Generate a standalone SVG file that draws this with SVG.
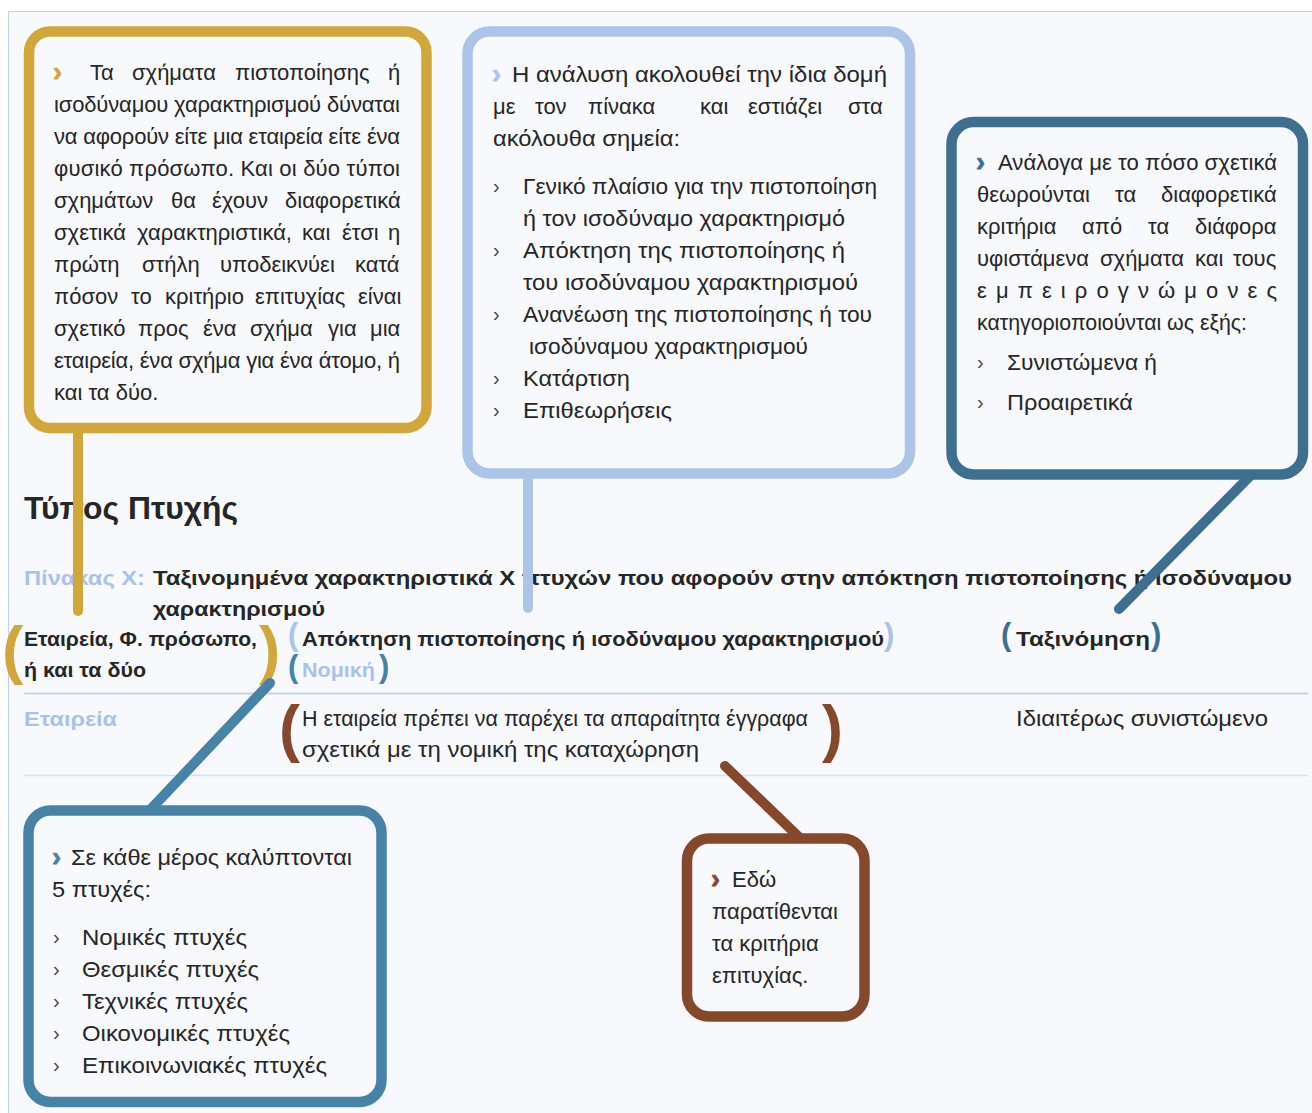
<svg xmlns="http://www.w3.org/2000/svg" width="1312" height="1113" viewBox="0 0 1312 1113">
<style>
.t{font-family:"Liberation Sans",Arial,sans-serif;font-size:22px;fill:#262626}
.b{font-weight:bold}
.chev{font-family:"Liberation Sans",Arial,sans-serif;font-weight:bold;font-size:27px;stroke-width:0.8}
.cap{font-family:"Liberation Sans",Arial,sans-serif;font-weight:bold;font-size:21px;fill:#262626}
.lb{fill:#a9c2e8}
.bul{font-family:"Liberation Sans",Arial,sans-serif;font-size:20px;fill:#444}
.par{font-family:"Liberation Sans",Arial,sans-serif;font-weight:bold}
.box{fill:#f8f9fd;stroke-width:10.5}
.con{fill:none;stroke-width:10;stroke-linecap:round}
.gold{stroke:#d1a63a}.gf{fill:#d1a63a}
.lblue{stroke:#abc4e8}.lbf{fill:#abc4e8}
.dblue{stroke:#3f6f8e}.dbf{fill:#3f6f8e}
.sblue{stroke:#4783a7}.sbf{fill:#4783a7}
.brown{stroke:#85482b}.brf{fill:#85482b}
</style>
<rect x="0" y="0" width="1312" height="1113" fill="#ffffff"/>
<rect x="8.5" y="11.5" width="1320" height="1120" fill="#f7f9fd" stroke="#c0d1ee" stroke-width="1"/>

<g id="table">
  <text class="t b" x="24" y="519" style="font-size:31px" textLength="214" lengthAdjust="spacingAndGlyphs">Τύπος Πτυχής</text>
  <text class="cap lb" x="24" y="585" textLength="121" lengthAdjust="spacingAndGlyphs">Πίνακας Χ:</text>
  <text class="cap" x="153" y="585" textLength="1139" lengthAdjust="spacingAndGlyphs">Ταξινομημένα χαρακτηριστικά Χ πτυχών που αφορούν στην απόκτηση πιστοποίησης ή ισοδύναμου</text>
  <text class="cap" x="153" y="616" textLength="172" lengthAdjust="spacingAndGlyphs">χαρακτηρισμού</text>

  <text class="cap" x="24" y="646" textLength="233" lengthAdjust="spacingAndGlyphs">Εταιρεία, Φ. πρόσωπο,</text>
  <text class="cap" x="24" y="677" textLength="122" lengthAdjust="spacingAndGlyphs">ή και τα δύο</text>
  <text class="cap" x="302" y="646" textLength="582" lengthAdjust="spacingAndGlyphs">Απόκτηση πιστοποίησης ή ισοδύναμου χαρακτηρισμού</text>
  <text class="cap lb" x="302" y="677" textLength="73" lengthAdjust="spacingAndGlyphs">Νομική</text>
  <text class="cap" x="1016" y="646" textLength="134" lengthAdjust="spacingAndGlyphs">Ταξινόμηση</text>

  <text class="par gf" x="2" y="672" style="font-size:64px">(</text>
  <text class="par gf" x="259" y="672" style="font-size:64px">)</text>
  <text class="par lbf" x="288" y="645" style="font-size:31px">(</text>
  <text class="par lbf" x="884" y="645" style="font-size:31px">)</text>
  <text class="par sbf" x="288" y="677" style="font-size:31px">(</text>
  <text class="par sbf" x="379" y="677" style="font-size:31px">)</text>
  <text class="par dbf" x="1001" y="645" style="font-size:31px">(</text>
  <text class="par dbf" x="1151" y="645" style="font-size:31px">)</text>

  <line x1="24" y1="693.5" x2="1308" y2="693.5" stroke="#b9cbe9" stroke-width="1.5"/>
  <text class="cap lb" x="24" y="726" textLength="93" lengthAdjust="spacingAndGlyphs">Εταιρεία</text>
  <text class="t" x="302" y="726" textLength="506" lengthAdjust="spacingAndGlyphs">Η εταιρεία πρέπει να παρέχει τα απαραίτητα έγγραφα</text>
  <text class="t" x="302" y="757" textLength="397" lengthAdjust="spacingAndGlyphs">σχετικά με τη νομική της καταχώρηση</text>
  <text class="t" x="1016" y="726" textLength="252" lengthAdjust="spacingAndGlyphs">Ιδιαιτέρως συνιστώμενο</text>
  <text class="par brf" x="279" y="750" style="font-size:63px">(</text>
  <text class="par brf" x="822" y="750" style="font-size:63px">)</text>
  <line x1="24" y1="775.5" x2="1308" y2="775.5" stroke="#d6e1f2" stroke-width="1.5"/>
</g>

<g id="connectors">
  <line class="con gold" x1="78" y1="428" x2="78" y2="611"/>
  <line class="con lblue" x1="528" y1="473" x2="528" y2="608"/>
  <line class="con dblue" x1="1252" y1="474" x2="1119" y2="609"/>
  <line class="con sblue" x1="150" y1="810" x2="270" y2="683"/>
  <line class="con brown" x1="800" y1="838" x2="725" y2="766"/>
</g>

<g id="box-gold">
  <rect class="box gold" x="29" y="31.5" width="397.5" height="396.5" rx="21"/>
  <text class="chev gf gold" x="53" y="81">›</text>
  <text class="t" y="80"><tspan x="90">Τα</tspan><tspan x="132">σχήματα</tspan><tspan x="235">πιστοποίησης</tspan><tspan x="388">ή</tspan></text>
  <text class="t" x="54" y="112" textLength="346" lengthAdjust="spacing">ισοδύναμου χαρακτηρισμού δύναται</text>
  <text class="t" x="54" y="144" textLength="346" lengthAdjust="spacing">να αφορούν είτε μια εταιρεία είτε ένα</text>
  <text class="t" x="54" y="176" textLength="346" lengthAdjust="spacing">φυσικό πρόσωπο. Και οι δύο τύποι</text>
  <text class="t" y="208"><tspan x="54">σχημάτων</tspan><tspan x="171">θα</tspan><tspan x="212">έχουν</tspan><tspan x="285">διαφορετικά</tspan></text>
  <text class="t" y="240"><tspan x="54">σχετικά</tspan><tspan x="137">χαρακτηριστικά,</tspan><tspan x="302">και</tspan><tspan x="342">έτσι</tspan><tspan x="388">η</tspan></text>
  <text class="t" y="272"><tspan x="54">πρώτη</tspan><tspan x="142">στήλη</tspan><tspan x="220">υποδεικνύει</tspan><tspan x="355">κατά</tspan></text>
  <text class="t" y="304"><tspan x="54">πόσον</tspan><tspan x="131">το</tspan><tspan x="165">κριτήριο</tspan><tspan x="255">επιτυχίας</tspan><tspan x="358">είναι</tspan></text>
  <text class="t" y="336"><tspan x="54">σχετικό</tspan><tspan x="138">προς</tspan><tspan x="203">ένα</tspan><tspan x="250">σχήμα</tspan><tspan x="328">για</tspan><tspan x="370">μια</tspan></text>
  <text class="t" x="54" y="368" textLength="346" lengthAdjust="spacing">εταιρεία, ένα σχήμα για ένα άτομο, ή</text>
  <text class="t" x="54" y="400">και τα δύο.</text>
</g>

<g id="box-analysis">
  <rect class="box lblue" x="467.5" y="31.5" width="442.5" height="442" rx="22"/>
  <text class="chev lbf lblue" x="492" y="83">›</text>
  <text class="t" x="512" y="82" textLength="375" lengthAdjust="spacingAndGlyphs">Η ανάλυση ακολουθεί την ίδια δομή</text>
  <text class="t" y="114"><tspan x="493">με</tspan><tspan x="535">τον</tspan><tspan x="588">πίνακα</tspan><tspan x="700">και</tspan><tspan x="748">εστιάζει</tspan><tspan x="848">στα</tspan></text>
  <text class="t" x="493" y="146" textLength="187" lengthAdjust="spacingAndGlyphs">ακόλουθα σημεία:</text>
  <text class="bul" x="493" y="193">›</text>
  <text class="t" x="523" y="194" textLength="354" lengthAdjust="spacingAndGlyphs">Γενικό πλαίσιο για την πιστοποίηση</text>
  <text class="t" x="523" y="226" textLength="322" lengthAdjust="spacingAndGlyphs">ή τον ισοδύναμο χαρακτηρισμό</text>
  <text class="bul" x="493" y="257">›</text>
  <text class="t" x="523" y="258" textLength="322" lengthAdjust="spacingAndGlyphs">Απόκτηση της πιστοποίησης ή</text>
  <text class="t" x="523" y="290" textLength="335" lengthAdjust="spacingAndGlyphs">του ισοδύναμου χαρακτηρισμού</text>
  <text class="bul" x="493" y="321">›</text>
  <text class="t" x="523" y="322" textLength="349" lengthAdjust="spacingAndGlyphs">Ανανέωση της πιστοποίησης ή του</text>
  <text class="t" x="529" y="354" textLength="279" lengthAdjust="spacingAndGlyphs">ισοδύναμου χαρακτηρισμού</text>
  <text class="bul" x="493" y="385">›</text>
  <text class="t" x="523" y="386" textLength="107" lengthAdjust="spacingAndGlyphs">Κατάρτιση</text>
  <text class="bul" x="493" y="417">›</text>
  <text class="t" x="523" y="418" textLength="149" lengthAdjust="spacingAndGlyphs">Επιθεωρήσεις</text>
</g>

<g id="box-classification">
  <rect class="box dblue" x="951.5" y="122" width="351.5" height="352.5" rx="22"/>
  <text class="chev dbf dblue" x="976" y="171">›</text>
  <text class="t" x="998" y="170" textLength="279" lengthAdjust="spacingAndGlyphs">Ανάλογα με το πόσο σχετικά</text>
  <text class="t" y="202"><tspan x="977">θεωρούνται</tspan><tspan x="1115">τα</tspan><tspan x="1161">διαφορετικά</tspan></text>
  <text class="t" y="234"><tspan x="977">κριτήρια</tspan><tspan x="1082">από</tspan><tspan x="1148">τα</tspan><tspan x="1195">διάφορα</tspan></text>
  <text class="t" y="266"><tspan x="977">υφιστάμενα</tspan><tspan x="1100">σχήματα</tspan><tspan x="1195">και</tspan><tspan x="1233">τους</tspan></text>
  <text class="t" x="977" y="298" textLength="300" lengthAdjust="spacing">ε μ π ε ι ρ ο γ ν ώ μ ο ν ε ς</text>
  <text class="t" x="977" y="330" textLength="270" lengthAdjust="spacingAndGlyphs">κατηγοριοποιούνται ως εξής:</text>
  <text class="bul" x="977" y="369">›</text>
  <text class="t" x="1007" y="370" textLength="150" lengthAdjust="spacingAndGlyphs">Συνιστώμενα ή</text>
  <text class="bul" x="977" y="409">›</text>
  <text class="t" x="1007" y="410" textLength="126" lengthAdjust="spacingAndGlyphs">Προαιρετικά</text>
</g>

<g id="box-aspects">
  <rect class="box sblue" x="28.5" y="810.5" width="353" height="291.5" rx="22"/>
  <text class="chev sbf sblue" x="52" y="866">›</text>
  <text class="t" x="71" y="865" textLength="281" lengthAdjust="spacingAndGlyphs">Σε κάθε μέρος καλύπτονται</text>
  <text class="t" x="52" y="897" textLength="99" lengthAdjust="spacingAndGlyphs">5 πτυχές:</text>
  <text class="bul" x="53" y="944">›</text>
  <text class="t" x="82" y="945" textLength="165" lengthAdjust="spacingAndGlyphs">Νομικές πτυχές</text>
  <text class="bul" x="53" y="976">›</text>
  <text class="t" x="82" y="977" textLength="177" lengthAdjust="spacingAndGlyphs">Θεσμικές πτυχές</text>
  <text class="bul" x="53" y="1008">›</text>
  <text class="t" x="82" y="1009" textLength="166" lengthAdjust="spacingAndGlyphs">Τεχνικές πτυχές</text>
  <text class="bul" x="53" y="1040">›</text>
  <text class="t" x="82" y="1041" textLength="208" lengthAdjust="spacingAndGlyphs">Οικονομικές πτυχές</text>
  <text class="bul" x="53" y="1072">›</text>
  <text class="t" x="82" y="1073" textLength="245" lengthAdjust="spacingAndGlyphs">Επικοινωνιακές πτυχές</text>
</g>

<g id="box-criteria">
  <rect class="box brown" x="687" y="838.5" width="177.5" height="178" rx="22"/>
  <text class="chev brf brown" x="711" y="888">›</text>
  <text class="t" x="732" y="887">Εδώ</text>
  <text class="t" x="712" y="919" textLength="126" lengthAdjust="spacingAndGlyphs">παρατίθενται</text>
  <text class="t" x="712" y="951">τα κριτήρια</text>
  <text class="t" x="712" y="983">επιτυχίας.</text>
</g>
</svg>
